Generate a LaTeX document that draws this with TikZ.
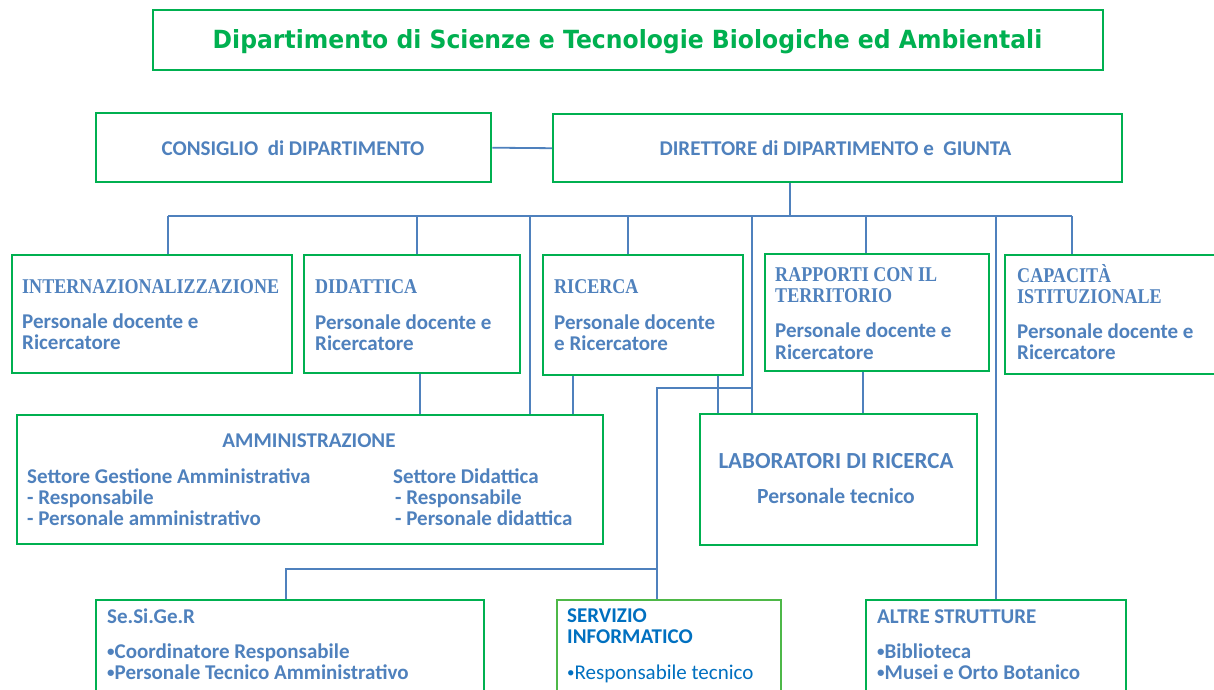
\documentclass[tikz,border=0pt]{standalone}
\usepackage{fontspec}
\setmainfont{Carlito}
\newfontfamily\titlefont{DejaVu Sans}
\newfontfamily\headserif[FakeStretch=0.86]{Liberation Serif}
\definecolor{bgreen}{HTML}{00B050}
\definecolor{lgreen}{HTML}{4EB848}
\definecolor{tblue}{HTML}{4F81BD}
\definecolor{sblue}{HTML}{0070C0}
\newcommand{\smb}{{\fontsize{15}{15}\selectfont\raisebox{1.5pt}{•}}}
\begin{document}
\begin{tikzpicture}[x=1pt,y=-1pt,
  box/.style={draw=bgreen, line width=2.4pt, inner sep=0pt, anchor=north west},
  conn/.style={draw=tblue, line width=1.8pt},
  txt/.style={anchor=base west, inner sep=0pt, text=tblue, font=\fontsize{21}{21}\selectfont\bfseries},
  ctxt/.style={txt, anchor=base},
  hd/.style={txt, font=\fontsize{21}{21}\selectfont\headserif\bfseries},
  stxt/.style={txt, text=sblue},
  rtxt/.style={txt, text=sblue, font=\fontsize{21}{21}\selectfont}]
\useasboundingbox (0,0) rectangle (1214,689);
\clip (0,0) rectangle (1214,689);
\fill[white] (0,0) rectangle (1214,689);

% boxes
\node[box, minimum width=950pt, minimum height=60pt] (title) at (152,9) {};
\node[box, minimum width=395pt, minimum height=69pt] (cons) at (95,112) {};
\node[box, minimum width=569pt, minimum height=68pt] (dir) at (552,113) {};
\node[box, minimum width=280pt, minimum height=118pt] (intern) at (11,254) {};
\node[box, minimum width=216pt, minimum height=118pt] (did) at (303,254) {};
\node[box, minimum width=200pt, minimum height=120pt] (ric) at (542,254) {};
\node[box, minimum width=224pt, minimum height=117pt] (rap) at (764,253) {};
\node[box, minimum width=220pt, minimum height=119pt] (cap) at (1004,254) {};
\node[box, minimum width=586pt, minimum height=129pt] (amm) at (16,414) {};
\node[box, minimum width=277pt, minimum height=131pt] (lab) at (699,413) {};
\node[box, minimum width=388pt, minimum height=110pt] (ses) at (95,599) {};
\node[box, draw=lgreen, minimum width=224pt, minimum height=110pt] (serv) at (556,599) {};
\node[box, minimum width=260pt, minimum height=110pt] (altre) at (865,599) {};

% texts
\node[anchor=base, inner sep=0pt, text=bgreen, font=\fontsize{25}{25}\selectfont\titlefont\bfseries] (ttl) at (627.5,48)
  {\scalebox{0.94}[1]{Dipartimento di Scienze e Tecnologie Biologiche ed Ambientali}};
\node[ctxt] (tcons) at (293,155) {CONSIGLIO\ \ di DIPARTIMENTO};
\node[ctxt] (tdir) at (835.5,155) {DIRETTORE di DIPARTIMENTO e\ \ GIUNTA};

\node[hd] (ti1) at (22,293) {INTERNAZIONALIZZAZIONE};
\node[txt] (ti2) at (22,328) {Personale docente e};
\node[txt] (ti3) at (22,349) {Ricercatore};

\node[hd] (td1) at (315,293) {DIDATTICA};
\node[txt] (td2) at (315,329) {Personale docente e};
\node[txt] (td3) at (315,350) {Ricercatore};

\node[hd] (tr1) at (554,293) {RICERCA};
\node[txt] (tr2) at (554,329) {Personale docente};
\node[txt] (tr3) at (554,350) {e Ricercatore};

\node[hd] (tp1) at (775,281) {RAPPORTI CON IL};
\node[hd] (tp2) at (775,302) {TERRITORIO};
\node[txt] (tp3) at (775,337) {Personale docente e};
\node[txt] (tp4) at (775,359) {Ricercatore};

\node[hd] (tc1) at (1017,282) {CAPACITÀ};
\node[hd] (tc2) at (1017,303) {ISTITUZIONALE};
\node[txt] (tc3) at (1017,338) {Personale docente e};
\node[txt] (tc4) at (1017,359) {Ricercatore};

\node[ctxt] (ta0) at (309,447) {AMMINISTRAZIONE};
\node[txt] (ta1) at (27,483) {Settore Gestione Amministrativa};
\node[txt] (ta2) at (27,504) {- Responsabile};
\node[txt] (ta3) at (27,525) {- Personale amministrativo};
\node[txt] (ta4) at (393,483) {Settore Didattica};
\node[txt] (ta5) at (395,504) {- Responsabile};
\node[txt] (ta6) at (395,525) {- Personale didattica};

\node[ctxt, font=\fontsize{23}{23}\selectfont\bfseries] (tl1) at (836,468) {LABORATORI DI RICERCA};
\node[ctxt, font=\fontsize{21.6}{21.6}\selectfont\bfseries] (tl2) at (836,503) {Personale tecnico};

\node[txt] (ts1) at (107,623) {Se.Si.Ge.R};
\node[txt] (ts2) at (107,658) {\smb Coordinatore Responsabile};
\node[txt] (ts3) at (107,679) {\smb Personale Tecnico Amministrativo};

\node[stxt] (tv1) at (567,622) {SERVIZIO};
\node[stxt] (tv2) at (567,643) {INFORMATICO};
\node[rtxt] (tv3) at (567,679) {\smb Responsabile tecnico};

\node[txt] (tt1) at (877,623) {ALTRE STRUTTURE};
\node[txt] (tt2) at (877,658) {\smb Biblioteca};
\node[txt] (tt3) at (877,679) {\smb Musei e Orto Botanico};

% connectors
\draw[conn] (cons.east) -- (dir.west);
\coordinate (b0) at (790,216);
\coordinate (b1) at (168,216);
\coordinate (b2) at (417,216);
\coordinate (b3) at (530,216);
\coordinate (b4) at (628,216);
\coordinate (b5) at (752,216);
\coordinate (b6) at (866,216);
\coordinate (b7) at (996,216);
\coordinate (b8) at (1072,216);
\draw[conn] (b0 |- dir.south) -- (b0);
\draw[conn] (b1) -- (b8);
\draw[conn] (b1) -- (b1 |- intern.north);
\draw[conn] (b2) -- (b2 |- did.north);
\draw[conn] (b3) -- (b3 |- amm.north);
\draw[conn] (b4) -- (b4 |- ric.north);
\draw[conn] (b5) -- (b5 |- lab.north);
\draw[conn] (b6) -- (b6 |- rap.north);
\draw[conn] (b7) -- (b7 |- altre.north);
\draw[conn] (b8) -- (b8 |- cap.north);

\coordinate (d1) at (420,380);
\coordinate (d2) at (573,380);
\coordinate (d3) at (718,380);
\coordinate (d4) at (863,380);
\draw[conn] (d1 |- did.south) -- (d1 |- amm.north);
\draw[conn] (d2 |- ric.south) -- (d2 |- amm.north);
\draw[conn] (d3 |- ric.south) -- (d3 |- lab.north);
\draw[conn] (d4 |- rap.south) -- (d4 |- lab.north);

\coordinate (j1) at (752,388);
\coordinate (j2) at (657,388);
\coordinate (j3) at (657,569);
\coordinate (j4) at (286,569);
\draw[conn] (j1) -- (j2) -- (j2 |- serv.north);
\draw[conn] (j3) -- (j4) -- (j4 |- ses.north);
\end{tikzpicture}
\end{document}
